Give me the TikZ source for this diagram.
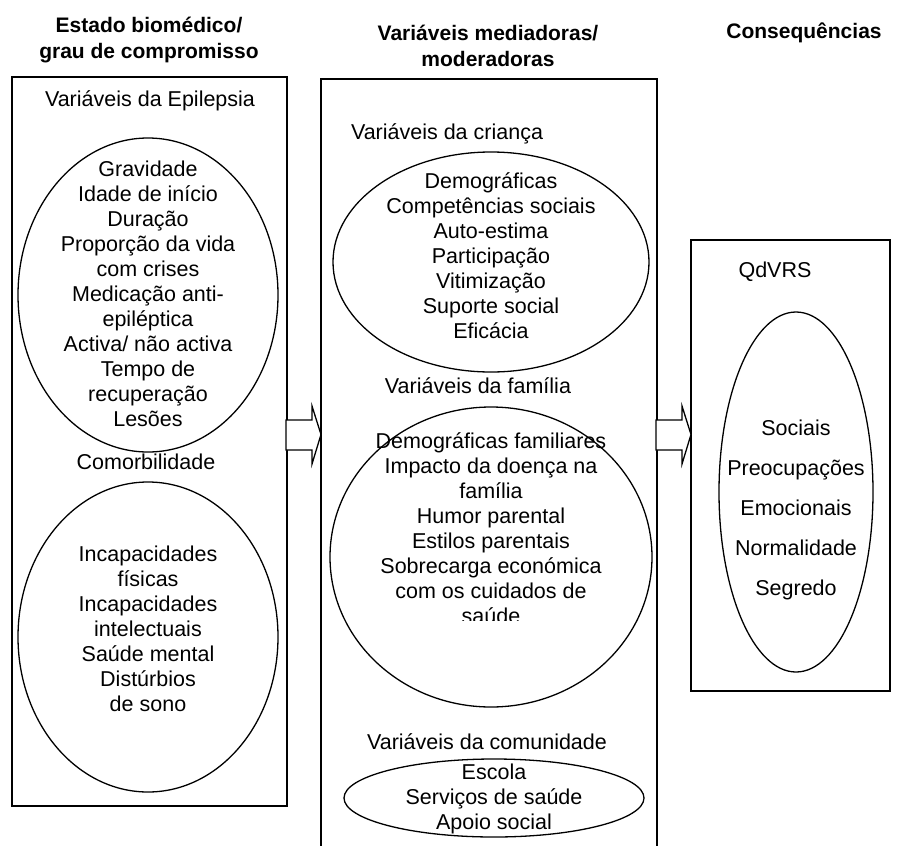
\documentclass[tikz,border=0pt]{standalone}
\usepackage{fontspec}
\setmainfont{Liberation Sans}
\usetikzlibrary{positioning}

\begin{document}
\begin{tikzpicture}[x=1pt, y=-1pt,
    txt/.style={align=center, font=\fontsize{21.5}{25}\selectfont, inner sep=0pt},
    ttl/.style={align=center, font=\bfseries\fontsize{21}{25.5}\selectfont, inner sep=0pt},
    bloco/.style={draw, line width=1.6pt},
    oval/.style={draw, line width=1.3pt},
    seta/.style={draw, line width=1.3pt, fill=white}]
    \useasboundingbox (0,0) rectangle (905,846);

    % titulos
    \node[ttl] (tEstado) at (149,40) {Estado biomédico/\\grau de compromisso};
    \node[ttl] (tMed) at (488,46) {Variáveis mediadoras/\\moderadoras};
    \node[ttl] (tCons) at (804,33) {Consequências};

    % caixas
    \draw[bloco] (12,77) rectangle (287,806);
    \draw[bloco] (321,850) |- (657,79) -- (657,850);
    \draw[bloco] (691,240) rectangle (890,691);

    % estado biomedico
    \node[txt] (vEpi) at (150,101) {Variáveis da Epilepsia};
    \draw[oval] (148,295) ellipse [x radius=130, y radius=157];
    \node[txt] (lEpi) at (148,294) {Gravidade\\Idade de início\\Duração\\Proporção da vida\\com crises\\Medicação anti-\\epiléptica\\Activa/ não activa\\Tempo de\\recuperação\\Lesões};
    \node[txt] (vComo) at (146,462) {Comorbilidade};
    \draw[oval] (148,637) ellipse [x radius=130, y radius=155];
    \node[txt] (lComo) at (148,629) {Incapacidades\\físicas\\Incapacidades\\intelectuais\\Saúde mental\\Distúrbios\\de sono};

    % mediadoras
    \node[txt] (vCri) at (447,134) {Variáveis da criança};
    \draw[oval] (491,262) ellipse [x radius=158, y radius=110];
    \node[txt] (lCri) at (491,256) {Demográficas\\Competências sociais\\Auto-estima\\Participação\\Vitimização\\Suporte social\\Eficácia};
    \node[txt] (vFam) at (478,386) {Variáveis da família};
    \draw[oval] (491,557) ellipse [x radius=161, y radius=150];
    \begin{scope}
        \clip (321,400) rectangle (657,620);
        \node[txt] (lFam) at (491,528) {Demográficas familiares\\Impacto da doença na\\família\\Humor parental\\Estilos parentais\\Sobrecarga económica\\com os cuidados de\\saúde};
    \end{scope}
    \node[txt] (vCom) at (487,742) {Variáveis da comunidade};
    \draw[oval] (494,798) ellipse [x radius=150, y radius=39];
    \node[txt] (lCom) at (494,799) {Escola\\Serviços de saúde\\Apoio social};

    % consequencias
    \node[txt] (vQd) at (775,272) {QdVRS};
    \draw[oval] (796,492) ellipse [x radius=77, y radius=180];
    \node[txt, font=\fontsize{21.5}{40}\selectfont] (lQd) at (796,510) {Sociais\\Preocupações\\Emocionais\\Normalidade\\Segredo};

    % setas
    \coordinate (s1) at (286,434.5);
    \coordinate (p1) at (321,434.5);
    \coordinate (s2) at (656,434.5);
    \coordinate (p2) at (691,434.5);
    \foreach \a/\b in {s1/p1, s2/p2} {
        \draw[seta] (\a) ++(0,-14.5) -- ++(26,0) -- ++(0,-14) -- (\b) -- ++(-9,29.5) -- ++(0,-14) -- ++(-26,0) -- cycle;
    }
\end{tikzpicture}
\end{document}
